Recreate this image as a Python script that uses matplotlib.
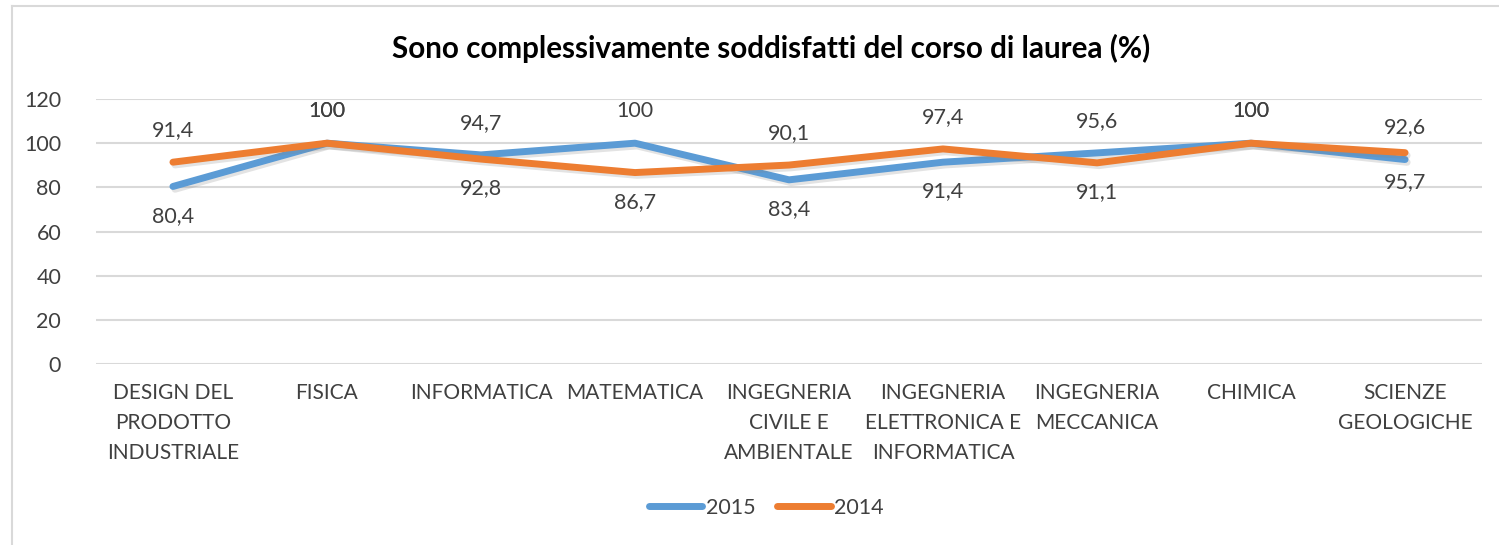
import matplotlib
matplotlib.use("Agg")
import matplotlib.pyplot as plt
import matplotlib.patheffects as pe
from matplotlib.lines import Line2D

plt.rcParams['font.family'] = ['Lato', 'DejaVu Sans']

categories = ["DESIGN DEL\nPRODOTTO\nINDUSTRIALE", "FISICA", "INFORMATICA", "MATEMATICA",
              "INGEGNERIA\nCIVILE E\nAMBIENTALE", "INGEGNERIA\nELETTRONICA E\nINFORMATICA",
              "INGEGNERIA\nMECCANICA", "CHIMICA", "SCIENZE\nGEOLOGICHE"]
v2015 = [80.4, 100, 94.7, 100, 83.4, 91.4, 95.6, 100, 92.6]
v2014 = [91.4, 100, 92.8, 86.7, 90.1, 97.4, 91.1, 100, 95.7]
# where each data label sits: a = above, b = below
pos2015 = ['b', 'a', 'a', 'a', 'b', 'b', 'a', 'a', 'a']
pos2014 = ['a', 'a', 'b', 'b', 'a', 'a', 'b', 'a', 'b']
yticks = [0, 20, 40, 60, 80, 100, 120]

blue = '#5B9BD5'
orange = '#ED7D31'
txt = '#404040'

fig = plt.figure(figsize=(14.99, 5.45), dpi=100)
ax = fig.add_axes([0.064, 0.3321, 0.9247, 0.4862])

x = list(range(len(categories)))
shadow = [pe.SimpleLineShadow(offset=(1.5, -2), shadow_color='gray', alpha=0.22), pe.Normal()]
ax.plot(x, v2015, color=blue, lw=5, solid_capstyle='round', solid_joinstyle='round',
        label='2015', path_effects=shadow, zorder=3)
ax.plot(x, v2014, color=orange, lw=5, solid_capstyle='round', solid_joinstyle='round',
        label='2014', path_effects=shadow, zorder=4)


def fmt(v):
    if v == int(v):
        return str(int(v))
    return ('%.1f' % v).replace('.', ',')


for vals, poss in [(v2015, pos2015), (v2014, pos2014)]:
    for i, (v, p) in enumerate(zip(vals, poss)):
        off = 23 if p == 'a' else -21
        ax.annotate(fmt(v), (i, v), xytext=(0, off), textcoords='offset points',
                    ha='center', va='center', fontsize=15.5, color=txt, zorder=5)

ax.set_xlim(-0.5, len(categories) - 0.5)
ax.set_ylim(0, 120)
ax.set_yticks(yticks)
ax.set_xticks(x)
ax.set_xticklabels(categories, fontsize=15, color=txt, linespacing=1.6, va='top')
ax.tick_params(axis='y', labelsize=15.5, labelcolor=txt, length=0, pad=25)
ax.tick_params(axis='x', length=0, pad=14)
ax.grid(axis='y', color='#D9D9D9', lw=1.5)
ax.set_axisbelow(True)
for s in ax.spines.values():
    s.set_visible(False)

fig.text(771 / 1499, 1 - 48 / 545, 'Sono complessivamente soddisfatti del corso di laurea (%)',
         ha='center', va='center', fontsize=21.3, fontweight='bold', color='black')

leg = fig.legend(loc='center', bbox_to_anchor=(766 / 1499, 1 - 508 / 545), ncol=2, frameon=False,
                 fontsize=15.5, handlelength=2.5, handletextpad=0.15, columnspacing=1.0)
for t in leg.get_texts():
    t.set_color(txt)
for h in leg.legend_handles:
    h.set_path_effects([])

# chart frame (left and top edges visible)
fig.add_artist(Line2D([12 / 1499, 12 / 1499], [0, 1 - 6 / 545], transform=fig.transFigure,
                      color='#D9D9D9', lw=1.5))
fig.add_artist(Line2D([12 / 1499, 1], [1 - 6 / 545, 1 - 6 / 545], transform=fig.transFigure,
                      color='#D9D9D9', lw=1.5))

fig.savefig('out.png', dpi=100)
